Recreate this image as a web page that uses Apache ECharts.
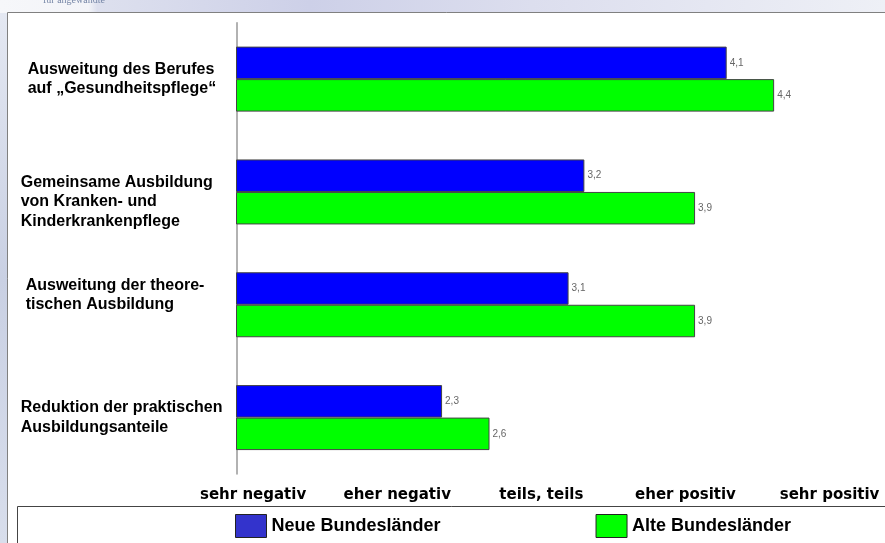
<!DOCTYPE html>
<html><head><meta charset="utf-8">
<script src="https://cdn.jsdelivr.net/npm/echarts@6/dist/echarts.min.js"></script>
<style>html,body{margin:0;padding:0;background:#fff}#c{width:885px;height:543px}</style>
</head><body><div id="c"></div>
<script>
const categories = [
  'Ausweitung des Berufes\nauf „Gesundheitspflege“',
  'Gemeinsame Ausbildung\nvon Kranken- und\nKinderkrankenpflege',
  'Ausweitung der theore-\ntischen Ausbildung',
  'Reduktion der praktischen\nAusbildungsanteile'
];
const seriesNames = ['Neue Bundesländer', 'Alte Bundesländer'];
const neueBundeslaender = [4.1, 3.2, 3.1, 2.3];
const alteBundeslaender = [4.4, 3.9, 3.9, 2.6];
const scaleLabels = ['sehr negativ', 'eher negativ', 'teils, teils', 'eher positiv', 'sehr positiv'];
const scaleLabelValues = [0, 1, 2, 3, 4];

const chart = echarts.init(document.getElementById('c'));
const labelPads = [[0,0,0,7],[0,0,0,0],[0,0,0,5],[0,0,0,0]];
const labelShift = ['', '\n', '', ''];
const labelTail = ['', '', '\n', ''];
const fmt = p => p.value.toFixed(1).replace('.', ',');
const barLabel = {show:true, position:'right', distance:3, formatter:fmt, fontSize:10, color:'#666', fontFamily:'Liberation Sans'};
const catLabelStyle = {align:'left', verticalAlign:'middle', fontFamily:'Liberation Sans', fontWeight:'bold', fontSize:16, lineHeight:19.5, color:'#000'};

chart.setOption({
  animation:false,
  backgroundColor:'transparent',
  graphic:[
    {type:'rect', z:-20, shape:{x:0,y:0,width:885,height:543}, style:{fill:'#d3d9e8'}},
    {type:'rect', z:-19, shape:{x:0,y:0,width:885,height:13}, style:{fill:new echarts.graphic.LinearGradient(0,0,1,0,[
      {offset:0,color:'#f6f7fa'},{offset:0.1,color:'#f3f4f8'},{offset:0.11,color:'#dde0ee'},{offset:0.35,color:'#cdd0e8'},{offset:0.6,color:'#dcdeee'},{offset:1,color:'#eef0f6'}])}},
    {type:'rect', z:-19, shape:{x:0,y:13,width:7,height:530}, style:{fill:new echarts.graphic.LinearGradient(0,0,0,1,[
      {offset:0,color:'#e4e8f2'},{offset:0.5,color:'#c9d0e3'},{offset:1,color:'#d8deec'}])}},
    {type:'text', z:-18, x:43, y:-5, style:{text:'für angewandte', fontSize:10, fill:'#7888a8', fontFamily:'Liberation Serif'}},
    {type:'rect', z:-15, shape:{x:7.5,y:12.5,width:900,height:560}, style:{fill:'#fff', stroke:'#808080', lineWidth:1}},
    {type:'rect', z:10, shape:{x:17.5,y:506.5,width:900,height:60}, style:{fill:'none', stroke:'#444', lineWidth:1}}
  ],
  grid:{left:236.5, right:16, top:22.7, height:451.3, containLabel:false, outerBoundsMode:'none'},
  xAxis:[
    {type:'value', position:'top', min:1, max:5, show:false},
    {type:'value', position:'bottom', min:-0.1152, max:4.2736,
     axisLine:{show:false}, axisTick:{show:false}, splitLine:{show:false},
     axisLabel:{customValues:scaleLabelValues, formatter:v => scaleLabels[Math.round(v)], margin:14,
       hideOverlap:false, showMinLabel:true, showMaxLabel:true,
       fontFamily:'DejaVu Sans', fontWeight:'bold', fontSize:15, color:'#000'}}
  ],
  yAxis:{type:'category', inverse:true,
    data:categories.map((c,i)=>({value:c, textStyle:Object.assign({padding:labelPads[i]}, catLabelStyle)})),
    axisLine:{onZero:false, lineStyle:{color:'#999', width:1.5}},
    axisTick:{length:3, lineStyle:{color:'#999'}},
    axisLabel:Object.assign({interval:0, margin:215.8,
      formatter:(v, i) => labelShift[i] + v + labelTail[i]}, catLabelStyle)},
  legend:{left:235, top:514, padding:0, itemWidth:31, itemHeight:23, itemGap:155,
    textStyle:{fontFamily:'Liberation Sans', fontWeight:'bold', fontSize:18, color:'#000'},
    itemStyle:{borderColor:'#222', borderWidth:1},
    data:[{name:seriesNames[0], icon:'rect', itemStyle:{color:'#3333cc'}},
          {name:seriesNames[1], icon:'rect', itemStyle:{color:'#00ff00'}}]},
  series:[
    {name:seriesNames[0], type:'bar', xAxisIndex:0, data:neueBundeslaender, barWidth:32.5, barGap:'0%',
     itemStyle:{color:'#0000ff', borderColor:'#444', borderWidth:1}, label:barLabel},
    {name:seriesNames[1], type:'bar', xAxisIndex:0, data:alteBundeslaender, barWidth:32.5, barGap:'0%',
     itemStyle:{color:'#00ff00', borderColor:'#444', borderWidth:1}, label:barLabel}
  ]
});
</script></body></html>
